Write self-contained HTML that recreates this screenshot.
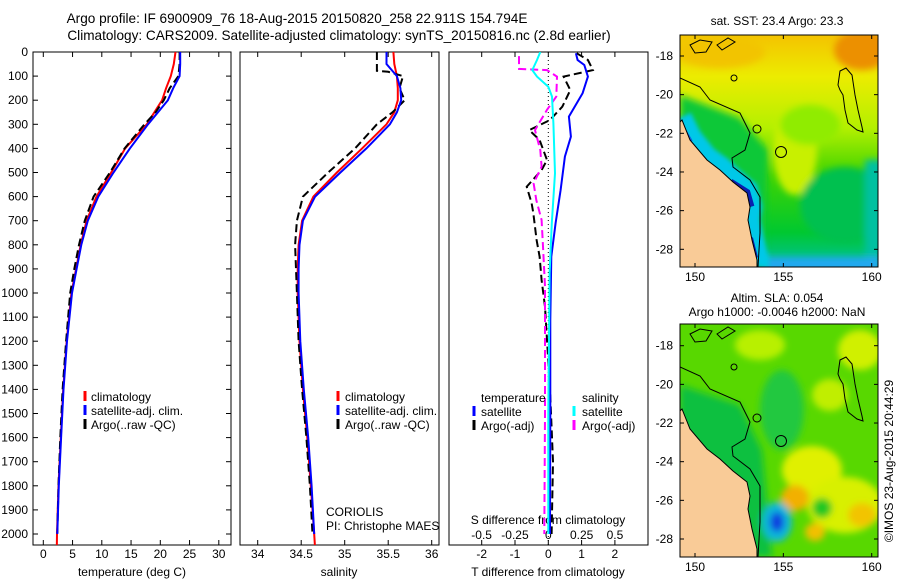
<!DOCTYPE html>
<html><head><meta charset="utf-8"><style>
html,body{margin:0;padding:0;background:#fff;}
svg{display:block;font-family:"Liberation Sans",sans-serif;}
text{font-size:12px;fill:#000;}
</style></head><body>
<svg id="fig" width="900" height="580" viewBox="0 0 900 580" xmlns="http://www.w3.org/2000/svg">
<defs>
  <clipPath id="c1"><rect x="33" y="52" width="198" height="493"/></clipPath>
  <clipPath id="c2"><rect x="240" y="52" width="199" height="493"/></clipPath>
  <clipPath id="c3"><rect x="449" y="52" width="199" height="493"/></clipPath>
  <clipPath id="m1"><rect x="680" y="35" width="198" height="232"/></clipPath>
  <clipPath id="m2"><rect x="680" y="324" width="198" height="233"/></clipPath>
  <filter id="bl" x="-50%" y="-50%" width="200%" height="200%"><feGaussianBlur stdDeviation="6"/></filter>
  <filter id="bl3" x="-50%" y="-50%" width="200%" height="200%"><feGaussianBlur stdDeviation="3.5"/></filter>
  <filter id="bl2" x="-50%" y="-50%" width="200%" height="200%"><feGaussianBlur stdDeviation="2"/></filter>
  <linearGradient id="g1" x1="0" y1="0" x2="0" y2="1">
    <stop offset="0" stop-color="#f4c200"/><stop offset="0.18" stop-color="#ecec00"/>
    <stop offset="0.4" stop-color="#b4f000"/><stop offset="0.6" stop-color="#40d400"/>
    <stop offset="0.85" stop-color="#00c830"/><stop offset="1" stop-color="#00c0a0"/>
  </linearGradient>
</defs>

<text x="297" y="23" text-anchor="middle" style="font-size:13.6px">Argo profile: IF 6900909_76 18-Aug-2015 20150820_258 22.911S 154.794E</text>
<text x="339" y="40" text-anchor="middle" style="font-size:13.6px">Climatology: CARS2009. Satellite-adjusted climatology: synTS_20150816.nc (2.8d earlier)</text>

<g id="panels"></g>

<!-- MAP 1 -->
<g>
<text x="777" y="25" text-anchor="middle">sat. SST: 23.4 Argo: 23.3</text>
<g clip-path="url(#m1)">
  <rect x="680" y="35" width="198" height="232" fill="url(#g1)"/>
  <g filter="url(#bl3)">
    <ellipse cx="862" cy="50" rx="28" ry="20" fill="#ec9000"/>
    <ellipse cx="720" cy="52" rx="45" ry="16" fill="#f2c400"/>
    <polygon points="680,95 740,118 768,150 765,267 680,267" fill="#08c838"/>
    <ellipse cx="795" cy="150" rx="22" ry="45" fill="#c8f000"/>
    <ellipse cx="810" cy="125" rx="30" ry="20" fill="#90ec00"/>
    <ellipse cx="845" cy="205" rx="45" ry="38" fill="#00c050"/>
    <rect x="865" y="160" width="25" height="100" fill="#00c0a0"/>
    <rect x="765" y="257" width="115" height="15" fill="#20a8f0"/>
  </g>
  <polyline points="680,118 690,138 706,158 720,168 733,180 746,191 750,207 748,220 752,240 757,260 757,267" fill="none" stroke="#00c8e8" stroke-width="24" filter="url(#bl2)"/>
  <polyline points="680,125 690,142" fill="none" stroke="#1060e0" stroke-width="6"/>
  <polyline points="730,183 746,193 750,207" fill="none" stroke="#0a20b0" stroke-width="9"/>
  <polyline points="750,238 755,258" fill="none" stroke="#0a20b0" stroke-width="6"/>
  <polygon points="680,122 682,120 690,140 707,160 720,170 733,182 747,193 750,207 748,220 752,240 757,260 757,267 680,267" fill="#f9cb97" stroke="#000" stroke-width="1"/>
  <polyline points="680,78 700,87 710,100 740,113 750,133 745,150 732,158 733,167 750,180 760,197 760,233 758,267" fill="none" stroke="#000" stroke-width="1"/>
  <polygon points="840,71 846,68 852,75 855,95 858,110 862,127 863,132 857,130 848,123 845,110 843,95 840,90 838,85" fill="none" stroke="#000"/>
  <polygon points="690,45 700,40 712,42 706,52 695,53" fill="none" stroke="#000"/>
  <polygon points="717,45 728,38 735,42 722,50" fill="none" stroke="#000"/>
  <circle cx="781" cy="152" r="5.5" fill="none" stroke="#000"/>
  <circle cx="734" cy="78" r="3" fill="none" stroke="#000"/>
  <circle cx="757" cy="129" r="4" fill="none" stroke="#000"/>
</g>
<rect x="680" y="35" width="198" height="232" fill="none" stroke="#000"/>
<g id="m1ticks"></g>
</g>

<!-- MAP 2 -->
<g>
<text x="777" y="302" text-anchor="middle">Altim. SLA: 0.054</text>
<text x="777" y="316" text-anchor="middle">Argo h1000: -0.0046 h2000: NaN</text>
<g clip-path="url(#m2)">
  <rect x="680" y="324" width="198" height="233" fill="#58d800"/>
  <g filter="url(#bl3)">
    <polygon points="680,385 740,405 762,450 772,557 680,557" fill="#10c040"/>
    <ellipse cx="782" cy="410" rx="22" ry="40" fill="#20c840"/>
    <ellipse cx="760" cy="345" rx="25" ry="15" fill="#b8f000"/>
    <ellipse cx="860" cy="350" rx="22" ry="20" fill="#d0f000"/>
    <ellipse cx="830" cy="395" rx="18" ry="16" fill="#c0ee00"/>
    <ellipse cx="812" cy="470" rx="30" ry="24" fill="#e0f000"/>
    <ellipse cx="845" cy="505" rx="38" ry="28" fill="#d8f000"/>
    <ellipse cx="795" cy="498" rx="14" ry="13" fill="#f2b000"/>
    <ellipse cx="815" cy="532" rx="10" ry="9" fill="#f2c000"/>
    <ellipse cx="862" cy="515" rx="14" ry="12" fill="#f2c400"/>
    <ellipse cx="822" cy="508" rx="10" ry="10" fill="#20c820"/>
    <ellipse cx="777" cy="522" rx="15" ry="20" fill="#10b8d8"/>
    <ellipse cx="777" cy="522" rx="7" ry="10" fill="#1040e0"/>
  </g>
  <polygon points="680,411 682,409 690,429 707,449 720,459 733,471 747,482 750,496 748,509 752,529 757,549 757,557 680,557" fill="#f9cb97" stroke="#000" stroke-width="1"/>
  <polyline points="680,367 700,376 710,389 740,402 750,422 745,439 732,447 733,456 750,469 760,486 760,522 758,557" fill="none" stroke="#000" stroke-width="1"/>
  <polygon points="840,360 846,357 852,364 855,384 858,399 862,416 863,421 857,419 848,412 845,399 843,384 840,379 838,374" fill="none" stroke="#000"/>
  <polygon points="690,334 700,329 712,331 706,341 695,342" fill="none" stroke="#000"/>
  <polygon points="717,334 728,327 735,331 722,339" fill="none" stroke="#000"/>
  <circle cx="781" cy="441" r="5.5" fill="none" stroke="#000"/>
  <circle cx="734" cy="367" r="3" fill="none" stroke="#000"/>
  <circle cx="757" cy="418" r="4" fill="none" stroke="#000"/>
</g>
<rect x="680" y="324" width="198" height="233" fill="none" stroke="#000"/>
<g id="m2ticks"></g>
</g>
<text transform="translate(893,461) rotate(-90)" text-anchor="middle">©IMOS 23-Aug-2015 20:44:29</text>
</svg>
<script>
// ---- data ----
const depthTicks = [0,100,200,300,400,500,600,700,800,900,1000,1100,1200,1300,1400,1500,1600,1700,1800,1900,2000];
const tempTicks = [0,5,10,15,20,25,30];
const salTicks = [34,34.5,35,35.5,36];
const salTickLabels = ["34","34.5","35","35.5","36"];
const tdiffTicks = [-2,-1,0,1,2];
const sdiffTicks = [-0.5,-0.25,0,0.25,0.5];

const depthClim = [0,50,100,150,200,250,300,400,500,600,700,800,900,1000,1200,1400,1600,1800,2000,2060];
const tempClim = [22.6,22.3,21.8,21.0,20.3,19.0,17.7,14.0,11.6,9.1,7.4,6.4,5.6,4.8,4.0,3.4,3.0,2.6,2.35,2.3];
const depthSat = [0,50,100,150,200,250,300,400,500,600,700,800,900,1000,1200,1400,1600,1800,2000];
const tempSat = [23.4,23.4,23.3,22.2,21.3,19.6,17.9,14.8,12.0,9.4,7.6,6.5,5.7,4.9,4.05,3.45,3.05,2.65,2.4];
const depthArgo = [0,50,100,150,200,250,300,400,500,600,700,800,900,1000,1200,1400,1600,1800,2000];
const tempArgo = [23.3,23.3,23.1,21.6,20.6,19.2,17.3,13.9,11.4,8.6,7.1,6.1,5.3,4.6,3.9,3.3,2.9,2.6,2.4];

const salClim = [35.56,35.57,35.60,35.61,35.61,35.57,35.48,35.20,34.91,34.64,34.51,34.47,34.46,34.46,34.48,34.52,34.57,34.61,34.65,34.66];
const salSat = [35.48,35.48,35.60,35.64,35.65,35.60,35.52,35.25,34.95,34.66,34.52,34.48,34.47,34.47,34.49,34.53,34.58,34.62,34.65];
const depthSalArgo = [0,78,82,100,150,200,250,300,400,500,600,700,800,900,1000,1200,1400,1600,1800,2000];
const salArgo = [35.37,35.37,35.50,35.67,35.63,35.69,35.55,35.37,35.12,34.81,34.52,34.45,34.43,34.44,34.45,34.47,34.51,34.56,34.60,34.63];

const depthDiffT = [5,33,54,102,171,268,351,434,573,710,849,1112,1500,2000];
const tdiffSat = [0.83,0.88,1.08,1.19,1.03,0.62,0.68,0.5,0.37,0.22,0.09,0.06,0.06,0.05];
const depthDiffTA = [5,33,75,102,158,227,282,324,365,448,490,559,627,668,780,849,946,1057,1400,1700,2000];
const tdiffArgo = [0.85,1.19,1.34,0.46,0.66,0.42,0.05,-0.57,-0.26,-0.04,-0.2,-0.65,-0.5,-0.45,-0.35,-0.26,-0.2,-0.1,0.05,0.14,0.1];
const depthDiffS = [0,33,75,102,144,185,296,503,710,918,1500,2000];
const sdiffSat = [-0.06,-0.085,-0.12,-0.085,0,0.028,0.038,0.05,0.026,0.01,0.0,0.0];
const depthDiffSA = [17,70,75,102,185,240,324,407,476,545,614,697,807,973,1500,2000];
const sdiffArgo = [-0.22,-0.22,-0.01,0.065,0.06,-0.01,-0.1,-0.06,-0.05,-0.11,-0.09,-0.05,-0.04,-0.025,-0.025,-0.03];

const latTicks = [-18,-20,-22,-24,-26,-28];
const lonTicks = [150,155,160];

// ---- scales ----
const yD = d => 52 + d*0.241;
const xT = t => 43.3 + t*5.85;
const xS = s => 257.7 + (s-34)*87;
const xTd = v => 548.3 + v*33.3;
const xSd = v => 548.3 + v*133.3;

const NS = "http://www.w3.org/2000/svg";
const root = document.getElementById('panels');
function mk(tag, attrs, parent){ const e=document.createElementNS(NS,tag); for(const k in attrs) e.setAttribute(k,attrs[k]); (parent||root).appendChild(e); return e; }

function series(xs, ds, xf, color, dashed, clip, name){
  const pts = xs.map((v,i)=> xf(v).toFixed(1)+","+yD(ds[i]).toFixed(1)).join(" ");
  const p = mk('polyline',{points:pts,fill:'none',stroke:color,'stroke-width':2,'clip-path':'url(#'+clip+')'});
  if(dashed) p.setAttribute('stroke-dasharray','8,4');
  
  
}

function box(x,w,name){
  const r = mk('rect',{x:x,y:52,width:w,height:493,fill:'none',stroke:'#000'});
  
  
}
function xticks(vals, xf, labels, ylab){
  vals.forEach((v,i)=>{
    const x = xf(v);
    mk('line',{x1:x,y1:52,x2:x,y2:57,stroke:'#000'});
    mk('line',{x1:x,y1:545,x2:x,y2:540,stroke:'#000'});
    const t = mk('text',{x:x,y:ylab,'text-anchor':'middle'}); t.textContent = labels[i];
    
    
  });
}

// Panel 1
box(33,198,'temperature-panel');
depthTicks.forEach(d=>{
  mk('line',{x1:33,y1:yD(d),x2:38,y2:yD(d),stroke:'#000'});
  mk('line',{x1:231,y1:yD(d),x2:226,y2:yD(d),stroke:'#000'});
  const t = mk('text',{x:28,y:yD(d)+4,'text-anchor':'end'}); t.textContent = d;
  
  
});
xticks(tempTicks, xT, tempTicks.map(String), 558);
let tt = mk('text',{x:132,y:576,'text-anchor':'middle'}); tt.textContent='temperature (deg C)';


series(tempClim, depthClim, xT, '#ff0000', false, 'c1', 'temp-climatology-line');
series(tempArgo, depthArgo, xT, '#000', true, 'c1', 'temp-argo-line');
series(tempSat, depthSat, xT, '#0000ff', false, 'c1', 'temp-satellite-line');

// Panel 2
box(240,199,'salinity-panel');
xticks(salTicks, xS, salTickLabels, 558);
tt = mk('text',{x:339,y:576,'text-anchor':'middle'}); tt.textContent='salinity';


series(salClim, depthClim, xS, '#ff0000', false, 'c2', 'sal-climatology-line');
series(salArgo, depthSalArgo, xS, '#000', true, 'c2', 'sal-argo-line');
series(salSat, depthSat, xS, '#0000ff', false, 'c2', 'sal-satellite-line');

// Panel 3
box(449,199,'difference-panel');
mk('line',{x1:xTd(0),y1:52,x2:xTd(0),y2:545,stroke:'#000','stroke-dasharray':'1,3'});
xticks(tdiffTicks, xTd, tdiffTicks.map(String), 558);
sdiffTicks.forEach(v=>{
  const t = mk('text',{x:xSd(v),y:539,'text-anchor':'middle'}); t.textContent = String(v);
  
  
});
tt = mk('text',{x:548,y:524,'text-anchor':'middle'}); tt.textContent='S difference from climatology';


tt = mk('text',{x:548,y:576,'text-anchor':'middle'}); tt.textContent='T difference from climatology';


series(tdiffArgo, depthDiffTA, xTd, '#000', true, 'c3', 'tdiff-argo-line');
series(sdiffArgo, depthDiffSA, xSd, '#ff00ff', true, 'c3', 'sdiff-argo-line');
series(tdiffSat, depthDiffT, xTd, '#0000ff', false, 'c3', 'tdiff-satellite-line');
series(sdiffSat, depthDiffS, xSd, '#00ffff', false, 'c3', 'sdiff-satellite-line');

// legends
function legend(mx, tx, y, color, label, name){
  mk('line',{x1:mx,y1:y-10,x2:mx,y2:y,stroke:color,'stroke-width':3});
  const t = mk('text',{x:tx,y:y}); t.textContent = label;
  
  
}
legend(85,91,401,'#ff0000','climatology','legend-climatology');
legend(85,91,415,'#0000ff','satellite-adj. clim.','legend-satellite-adj');
legend(85,91,429,'#000','Argo(..raw -QC)','legend-argo');
legend(338,345,401,'#ff0000','climatology','legend-climatology');
legend(338,345,415,'#0000ff','satellite-adj. clim.','legend-satellite-adj');
legend(338,345,429,'#000','Argo(..raw -QC)','legend-argo');
tt = mk('text',{x:481,y:402}); tt.textContent='temperature';


tt = mk('text',{x:582,y:402}); tt.textContent='salinity';


legend(474,481,416,'#0000ff','satellite','legend-t-satellite');
legend(474,481,430,'#000','Argo(-adj)','legend-t-argo');
legend(574,582,416,'#00ffff','satellite','legend-s-satellite');
legend(574,582,430,'#ff00ff','Argo(-adj)','legend-s-argo');
tt = mk('text',{x:326,y:516}); tt.textContent='CORIOLIS';


tt = mk('text',{x:326,y:530}); tt.textContent='PI: Christophe MAES';



// map ticks
function mapTicks(gid, top, bottom, lat18y){
  const g = document.getElementById(gid);
  latTicks.forEach(l=>{
    const y = lat18y + (-18 - l)*19.33;
    mk('line',{x1:680,y1:y,x2:684,y2:y,stroke:'#000'},g);
    mk('line',{x1:878,y1:y,x2:874,y2:y,stroke:'#000'},g);
    const t = mk('text',{x:673,y:y+4,'text-anchor':'end'},g); t.textContent = l;
    
    
  });
  lonTicks.forEach(l=>{
    const x = 695 + (l-150)*17.67;
    mk('line',{x1:x,y1:top,x2:x,y2:top+4,stroke:'#000'},g);
    mk('line',{x1:x,y1:bottom,x2:x,y2:bottom-4,stroke:'#000'},g);
    const t = mk('text',{x:x,y:bottom+14,'text-anchor':'middle'},g); t.textContent = l;
    
    
  });
}
mapTicks('m1ticks',35,267,56);
mapTicks('m2ticks',324,557,345.7);
</script>
</body></html>
